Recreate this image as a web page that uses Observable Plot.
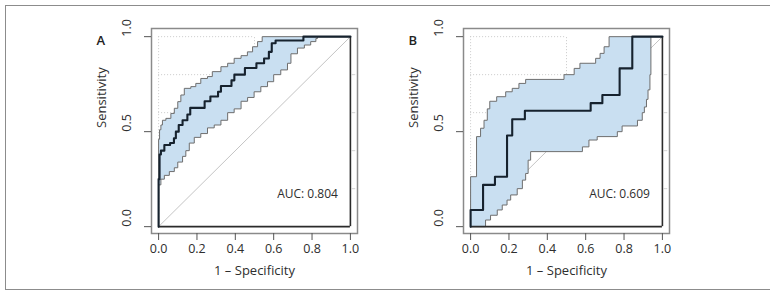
<!DOCTYPE html>
<html>
<head>
<meta charset="utf-8">
<script src="https://cdn.jsdelivr.net/npm/d3@7"></script>
<script src="https://cdn.jsdelivr.net/npm/@observablehq/plot@0.6"></script>
<style>
  body { margin: 0; background: #fff; }
  #fig { position: relative; width: 770px; height: 295px; overflow: hidden; background: #fff; }
  #border { position: absolute; left: 5px; top: 5px; width: 775px; height: 285px; border: 1.5px solid #8c8c8c; box-sizing: border-box; }
  .panel { position: absolute; top: 0; }
</style>
</head>
<body>
<div id="fig">
  <div id="border"></div>
  <div id="pa" class="panel" style="left:70px"></div>
  <div id="pb" class="panel" style="left:382px"></div>
</div>
<script>
// Each series lists the points where the ROC staircase rises:
// (1 − specificity at the rise, sensitivity reached).

// Panel A — ROC curve
const rocA_x = [0, 0, 0.005, 0.012, 0.03, 0.06, 0.08, 0.09, 0.105, 0.125, 0.15, 0.165, 0.24, 0.27, 0.31, 0.325, 0.38, 0.395, 0.45, 0.51, 0.55, 0.575, 0.59, 0.61, 0.755, 1];
const rocA_y = [0, 0.25, 0.38, 0.40, 0.43, 0.44, 0.465, 0.50, 0.535, 0.56, 0.59, 0.625, 0.66, 0.685, 0.71, 0.74, 0.77, 0.80, 0.835, 0.86, 0.885, 0.92, 0.965, 0.98, 1, 1];
// Panel A — upper confidence bound
const ciHiA_x = [0, 0, 0.005, 0.012, 0.02, 0.038, 0.064, 0.082, 0.1, 0.116, 0.134, 0.168, 0.194, 0.22, 0.255, 0.28, 0.325, 0.36, 0.394, 0.43, 0.463, 0.49, 0.516, 0.54, 1];
const ciHiA_y = [0, 0.46, 0.51, 0.535, 0.56, 0.57, 0.596, 0.623, 0.658, 0.693, 0.728, 0.737, 0.754, 0.78, 0.79, 0.816, 0.842, 0.86, 0.886, 0.9, 0.92, 0.947, 0.974, 1, 1];
// Panel A — lower confidence bound
const ciLoA_x = [0, 0, 0.012, 0.03, 0.056, 0.082, 0.1, 0.125, 0.142, 0.16, 0.186, 0.22, 0.255, 0.29, 0.325, 0.36, 0.394, 0.43, 0.464, 0.498, 0.533, 0.568, 0.6, 0.637, 0.672, 0.69, 0.724, 0.76, 0.793, 0.82, 0.828, 1];
const ciLoA_y = [0, 0.22, 0.25, 0.27, 0.29, 0.31, 0.34, 0.37, 0.40, 0.44, 0.47, 0.49, 0.52, 0.535, 0.56, 0.60, 0.62, 0.66, 0.68, 0.71, 0.737, 0.763, 0.80, 0.825, 0.86, 0.91, 0.94, 0.956, 0.974, 0.99, 1, 1];

// Panel B — ROC curve
const rocB_x = [0, 0, 0.065, 0.127, 0.19, 0.217, 0.283, 0.626, 0.687, 0.777, 0.843, 1];
const rocB_y = [0, 0.088, 0.22, 0.263, 0.48, 0.565, 0.61, 0.65, 0.693, 0.833, 1, 1];
// Panel B — upper confidence bound
const ciHiB_x = [0, 0, 0.031, 0.052, 0.07, 0.087, 0.1, 0.136, 0.183, 0.217, 0.252, 0.287, 0.487, 0.54, 0.57, 0.652, 0.675, 0.696, 0.722, 1];
const ciHiB_y = [0, 0.263, 0.474, 0.518, 0.56, 0.62, 0.66, 0.684, 0.71, 0.728, 0.754, 0.775, 0.80, 0.833, 0.86, 0.886, 0.912, 0.947, 1, 1];
// Panel B — lower confidence bound
const ciLoB_x = [0, 0.078, 0.104, 0.139, 0.165, 0.19, 0.209, 0.243, 0.27, 0.287, 0.30, 0.313, 0.583, 0.617, 0.66, 0.765, 0.79, 0.87, 0.895, 0.906, 0.917, 0.925, 0.935, 0.94, 1];
const ciLoB_y = [0, 0.035, 0.06, 0.088, 0.114, 0.14, 0.167, 0.20, 0.245, 0.28, 0.35, 0.395, 0.42, 0.456, 0.474, 0.50, 0.53, 0.56, 0.60, 0.63, 0.67, 0.72, 0.80, 1, 1];

const panelLetters = ["A", "B"];
const aucValues = [0.804, 0.609];
const xTicks = [0, 0.2, 0.4, 0.6, 0.8, 1.0];
const yTicks = [0, 0.5, 1.0];
const gridY = [0.8, 1.0];
const sideMarks = [0.2, 0.4, 0.6, 0.8];
const chanceLine = [0, 1];
const xTitle = "1 \u2013 Specificity";
const yTitle = "Sensitivity";

// Expand rise points into the corners of a staircase path.
function stairs(xs, ys) {
  const pts = [{x: xs[0], y: ys[0]}];
  for (let i = 1; i < xs.length; i++) {
    pts.push({x: xs[i], y: ys[i - 1]}, {x: xs[i], y: ys[i]});
  }
  return pts;
}

const fmt = d3.format(".1f");
const gridStyle = {stroke: "#c9c9c9", strokeWidth: 1, strokeDasharray: "1,2"};

function panel(letter, auc, rx, ry, hx, hy, lx, ly) {
  const roc = stairs(rx, ry);
  const hi = stairs(hx, hy);
  const lo = stairs(lx, ly);
  const band = hi.concat(lo.slice().reverse());
  return Plot.plot({
    width: 300,
    height: 295,
    marginLeft: 81,
    marginRight: 13,
    marginTop: 28,
    marginBottom: 62,
    x: {domain: [-0.037, 1.037]},
    y: {domain: [-0.036, 1.043]},
    style: {fontFamily: "'Open Sans', sans-serif", fontSize: "12px", color: "#2e2e2e", background: "transparent", overflow: "visible"},
    marks: [
      // dotted reference grid
      Plot.ruleY(gridY, {x1: 0, x2: 0.5, ...gridStyle}),
      Plot.ruleY([0.6], {x1: 0, x2: 0.2, ...gridStyle}),
      Plot.ruleX([0], {y1: 0, y2: 1, ...gridStyle}),
      Plot.ruleX([0.5], {y1: 0.8, y2: 1, ...gridStyle}),
      Plot.ruleY(sideMarks, {x1: 1.01, x2: 1.028, stroke: "#d4d4d4"}),
      // chance diagonal
      Plot.line(chanceLine, {x: d => d, y: d => d, stroke: "#c4c4c4", strokeWidth: 1}),
      // confidence band
      Plot.line(band, {x: "x", y: "y", fill: "#c9dff1", stroke: "none"}),
      Plot.line(hi, {x: "x", y: "y", stroke: "#6e6e6e", strokeWidth: 1}),
      Plot.line(lo, {x: "x", y: "y", stroke: "#6e6e6e", strokeWidth: 1}),
      // bounds of the unit square
      Plot.ruleY([0], {x1: 0, x2: 1, stroke: "#2b2b2b", strokeWidth: 1.6}),
      Plot.ruleX([1], {y1: 0, y2: 1, stroke: "#2b2b2b", strokeWidth: 1.6}),
      // ROC curve
      Plot.line(roc, {x: "x", y: "y", stroke: "#16222e", strokeWidth: 2.1}),
      Plot.frame({stroke: "#8a8a8a", strokeWidth: 1.5}),
      // axes
      Plot.axisX({ticks: xTicks, tickSize: 7, tickPadding: 4, tickFormat: fmt, label: null, stroke: "#555", fill: "#2e2e2e", fontSize: 12.5}),
      Plot.axisY({ticks: yTicks, tickSize: 7, tickFormat: () => "", label: null, stroke: "#555"}),
      Plot.text(yTicks, {y: d => d, text: d => fmt(d), frameAnchor: "left", rotate: -90, dx: -25, fill: "#2e2e2e", fontSize: 12.5}),
      Plot.text([yTitle], {frameAnchor: "left", dx: -50, dy: -3, rotate: -90, fill: "#2e2e2e", fontSize: 13}),
      Plot.text([xTitle], {frameAnchor: "bottom", dy: 41, fill: "#2e2e2e", fontSize: 13}),
      Plot.text([letter], {frameAnchor: "top-left", dx: -55, dy: 7, fontSize: 13, fontWeight: 600, fill: "#222"}),
      Plot.text([auc], {x: 0.935, y: 0.172, text: d => `AUC: ${d.toFixed(3)}`, textAnchor: "end", fill: "#2e2e2e"})
    ]
  });
}

document.getElementById("pa").append(panel(panelLetters[0], aucValues[0], rocA_x, rocA_y, ciHiA_x, ciHiA_y, ciLoA_x, ciLoA_y));
document.getElementById("pb").append(panel(panelLetters[1], aucValues[1], rocB_x, rocB_y, ciHiB_x, ciHiB_y, ciLoB_x, ciLoB_y));
</script>
</body>
</html>
